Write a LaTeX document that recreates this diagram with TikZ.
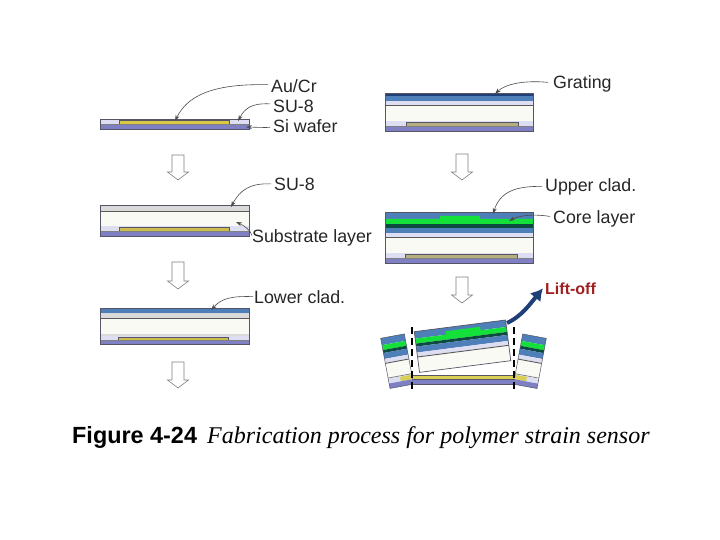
\documentclass[tikz,border=0pt]{standalone}
\usepackage{fontspec}
\setmainfont{Liberation Sans}
\newfontfamily\capserif{Liberation Serif}
\usetikzlibrary{arrows.meta}
\definecolor{cladb}{HTML}{4F7FB8}
\definecolor{gratb}{HTML}{1E3F78}
\definecolor{siw}{HTML}{7F80C4}
\definecolor{lav}{HTML}{DEDEF2}
\definecolor{goldl}{HTML}{D9C945}
\definecolor{greenl}{HTML}{14E03A}
\definecolor{teald}{HTML}{0D4A40}
\definecolor{whl}{HTML}{FAFAF4}
\definecolor{grayl}{HTML}{DADADA}
\definecolor{redl}{HTML}{A02020}
\definecolor{edgec}{HTML}{555566}
\newcommand{\lay}[5]{\fill[#5] (#1,#3) rectangle (#2,#4);}
\tikzset{
  lbl/.style={font=\fontsize{17.8}{20}\selectfont,text=black!85,inner sep=0pt,anchor=base west},
  lead/.style={draw=black!70,line width=0.6pt,-{Stealth[length=6pt,width=4pt]}},
  outl/.style={draw=edgec,line width=0.5pt},
  darkline/.style={draw=black!65,line width=0.9pt},
  blockarr/.style={draw=black!50,fill=white,line width=0.6pt,line join=miter},
  cutline/.style={draw=black,line width=1.8pt,dash pattern=on 7pt off 4pt}
}
% block arrow: centre x, top y, bottom y
\newcommand{\blk}[3]{\draw[blockarr] (#1-6,#2)--(#1+6,#2)--(#1+6,#3-8)--(#1+10.5,#3-8)--(#1,#3)--(#1-10.5,#3-8)--(#1-6,#3-8)--cycle;}
% lower part of every stack: lavender, gold, wafer
\newcommand{\base}[7]{% x1,x2,gx1,gx2,ytop,ywafer,ybot
  \lay{#1}{#2}{#5}{#6}{lav}
  \fill[goldl] (#3,#5+1) rectangle (#4,#6);
  \draw[outl] (#3,#5+1) rectangle (#4,#6);
  \lay{#1}{#2}{#6}{#7}{siw}
  \draw[outl] (#1,#7)--(#2,#7);
  \draw[darkline,draw=black!50] (#1,#6)--(#2,#6);
}
\begin{document}
\begin{tikzpicture}[x=1pt,y=-1pt]
\useasboundingbox (0,0) rectangle (720,540);
\fill[white] (0,0) rectangle (720,540);
% ---------- left column
% panel 1
\base{100}{249}{119}{229}{119}{124}{129}
\draw[outl] (100,119) rectangle (249,129);
% panel 2
\lay{100}{249}{205}{211}{grayl}
\lay{100}{249}{212}{226}{whl}
\draw[darkline] (100,211.5)--(249,211.5);
\draw[darkline,draw=black!45] (100,226)--(249,226);
\colorlet{goldl}{goldl!85!gray}
\base{100}{249}{119}{229}{226}{231}{236}
\draw[outl] (100,205) rectangle (249,236);
% panel 3
\lay{100}{249}{308}{313}{cladb}
\lay{100}{249}{313}{318}{grayl}
\lay{100}{249}{319}{334}{whl}
\draw[darkline] (100,318.5)--(249,318.5);
\lay{100}{249}{334}{337}{grayl}
\base{100}{249}{118}{228}{336}{340}{344}
\draw[outl] (100,308) rectangle (249,344);
% ---------- right column
\definecolor{goldl}{HTML}{B5AF80}
% panel 1
\lay{385}{533}{93}{96}{gratb}
\lay{385}{533}{96}{101}{cladb}
\lay{385}{533}{101}{105}{lav}
\lay{385}{533}{106}{121}{whl}
\draw[darkline] (385,105.5)--(533,105.5);
\draw[darkline,draw=black!45] (385,121)--(533,121);
\base{385}{533}{406}{518}{121}{126}{131}
\draw[outl] (385,93) rectangle (533,131);
% panel 2
\lay{385}{533}{212}{219}{cladb}
\fill[greenl] (385,219)--(440,219)--(440,216)--(480,216)--(480,219)--(533,219)--(533,224)--(385,224)--cycle;
\lay{385}{533}{224}{228}{teald}
\lay{385}{533}{228}{233}{cladb}
\lay{385}{533}{233}{237}{lav}
\lay{385}{533}{238}{253}{whl}
\draw[darkline] (385,237.5)--(533,237.5);
\draw[darkline,draw=black!45] (385,253)--(533,253);
\base{385}{533}{405}{517}{253}{258}{263}
\draw[outl] (385,212) rectangle (533,263);
\definecolor{goldl}{HTML}{D9CF55}
% panel 3: centre lifted piece
\begin{scope}[shift={(414.3,331.7)},rotate=7.3]
\lay{0}{92}{0}{7}{cladb}
\fill[greenl] (0,7)--(31,7)--(31,3.5)--(66,3.5)--(66,7)--(92,7)--(92,12)--(0,12)--cycle;
\lay{0}{92}{12}{15}{teald}
\lay{0}{92}{15}{21}{cladb}
\lay{0}{92}{21}{25}{lav}
\lay{0}{92}{26}{41}{whl}
\draw[darkline] (0,25.5)--(92,25.5);
\draw[outl,line width=0.7pt] (0,0) rectangle (92,41);
\end{scope}
% left fragment
\begin{scope}[shift={(380.7,338.3)},rotate=10.5]
\lay{0}{24}{0}{7}{cladb}
\lay{0}{24}{7}{12}{greenl}
\lay{0}{24}{12}{15}{teald}
\lay{0}{24}{15}{21}{cladb}
\lay{0}{24}{21}{25}{lav}
\lay{0}{24}{26}{40}{whl}
\draw[darkline] (0,25.5)--(24,25.5);
\draw[darkline,draw=black!50] (0,40.5)--(24,40.5);
\lay{0}{24}{41}{46}{lav}
\fill[goldl] (12,41.5) rectangle (24,46);
\lay{0}{24}{46}{51}{siw}
\draw[outl] (0,0) rectangle (24,51);
\end{scope}
% right fragment
\begin{scope}[shift={(522.7,334)},rotate=-10.5]
\lay{0}{24}{0}{7}{cladb}
\lay{0}{24}{7}{12}{greenl}
\lay{0}{24}{12}{15}{teald}
\lay{0}{24}{15}{21}{cladb}
\lay{0}{24}{21}{25}{lav}
\lay{0}{24}{26}{40}{whl}
\draw[darkline] (0,25.5)--(24,25.5);
\draw[darkline,draw=black!50] (0,40.5)--(24,40.5);
\lay{0}{24}{41}{46}{lav}
\fill[goldl] (0,41.5) rectangle (12,46);
\lay{0}{24}{46}{51}{siw}
\draw[outl] (0,0) rectangle (24,51);
\end{scope}
% centre base
\lay{413}{515}{375.5}{379}{goldl}
\lay{413}{515}{379}{384}{siw}
\draw[outl] (413,375.5)--(515,375.5);
\draw[outl] (413,379)--(515,379);
\draw[outl] (413,384)--(515,384);
% cut lines
\coordinate (cutAt) at (411.7,327);
\coordinate (cutAb) at (411.7,391);
\coordinate (cutBt) at (514.3,327);
\coordinate (cutBb) at (514.3,391);
\draw[cutline] (cutAt)--(cutAb);
\draw[cutline] (cutBt)--(cutBb);
% block arrows
\blk{178}{155}{180}
\blk{178}{262}{289}
\blk{178}{362}{388}
\blk{462}{154}{180}
\blk{462}{277}{303}
% labels
\node[lbl] (aucr) at (271,93) {Au/Cr};
\node[lbl] (sua) at (273,113) {SU-8};
\node[lbl] (si) at (273,133) {Si wafer};
\node[lbl] (sub) at (274,191) {SU-8};
\node[lbl] (subs) at (252,243) {Substrate layer};
\node[lbl] (lower) at (254,303) {Lower clad.};
\node[lbl] (grat) at (553,89) {Grating};
\node[lbl] (upper) at (545,192) {Upper clad.};
\node[lbl] (core) at (553,224) {Core layer};
\node[lbl,text=redl,font=\fontsize{16}{20}\selectfont\bfseries] (lift) at (545,294) {Lift-off};
% connector ends
\coordinate (eAu) at (175,121);
\coordinate (eSua) at (238,121);
\coordinate (eSi) at (246,127);
\coordinate (eSub) at (231,207);
\coordinate (eSubs) at (236,222);
\coordinate (eLower) at (211,310);
\coordinate (eGrat) at (495,94);
\coordinate (eUpper) at (493,214);
\coordinate (eCore) at (509,221);
\coordinate (sLift) at (507,323);
\draw[lead] ([shift={(-3,-2)}]aucr.west) .. controls (225,84) and (190,90) .. (eAu);
\draw[lead] ([shift={(-3,-3)}]sua.west) .. controls (252,103) and (245,108) .. (eSua);
\draw[lead] ([shift={(-3,1)}]si.west) -- (eSi);
\draw[lead] ([shift={(-3,-1)}]sub.west) .. controls (250,183) and (240,190) .. (eSub);
\draw[lead] ([shift={(0,-3)}]subs.west) .. controls (250,230) and (245,226) .. (eSubs);
\draw[lead] ([shift={(-1,0)}]lower.west) .. controls (232,296) and (222,298) .. (eLower);
\draw[lead] ([shift={(-5,-2)}]grat.west) .. controls (525,80) and (505,84) .. (eGrat);
\draw[lead] ([shift={(-3,-1)}]upper.west) .. controls (515,186) and (500,192) .. (eUpper);
\draw[lead] ([shift={(-3,-3)}]core.west) .. controls (535,214) and (520,215) .. (eCore);
\draw[draw=gratb,line width=4pt,-{Latex[length=12pt,width=14pt]}] (sLift) .. controls (522,316) and (530,304) .. ([xshift=-2pt]lift.west);
% caption
\node[inner sep=0pt,anchor=base west,font=\fontsize{23.4}{26}\selectfont\bfseries] (figa) at (72,443) {Figure 4-24};
\node[inner sep=0pt,anchor=base west,font=\fontsize{24}{26}\selectfont\capserif\itshape] (figb) at (207,443) {Fabrication process for polymer strain sensor};
\end{tikzpicture}
\end{document}
